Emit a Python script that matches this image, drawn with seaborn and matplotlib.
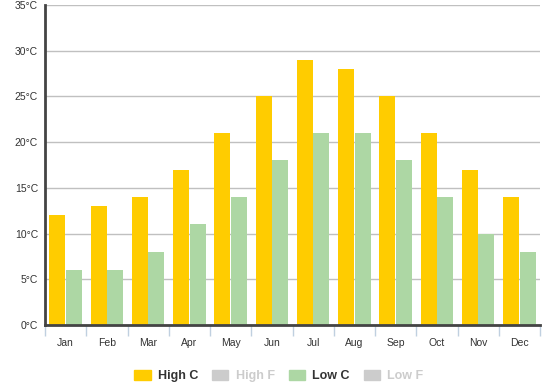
import matplotlib.pyplot as plt
import matplotlib.patches as mpatches
import seaborn as sns
import pandas as pd
import numpy as np

months = ['Jan', 'Feb', 'Mar', 'Apr', 'May', 'Jun',
          'Jul', 'Aug', 'Sep', 'Oct', 'Nov', 'Dec']
high_c = [12, 13, 14, 17, 21, 25, 29, 28, 25, 21, 17, 14]
low_c = [6, 6, 8, 11, 14, 18, 21, 21, 18, 14, 10, 8]
y_ticks = [0, 5, 10, 15, 20, 25, 30, 35]

high_color = '#FFCC00'
low_color = '#ADD7A4'
off_color = '#CCCCCC'

df = pd.DataFrame({
    'month': months * 2,
    'temp': high_c + low_c,
    'series': ['High C'] * len(months) + ['Low C'] * len(months),
})

sns.set_style('white')
plt.rcParams['font.family'] = ['Liberation Sans', 'DejaVu Sans']

fig = plt.figure(figsize=(5.47, 3.92), dpi=100)
ax = fig.add_axes([45 / 547, 1 - 325 / 392, 495 / 547, 320 / 392])

sns.barplot(data=df, x='month', y='temp', hue='series',
            palette={'High C': high_color, 'Low C': low_color},
            width=0.8, gap=0.04, linewidth=0, saturation=1,
            legend=False, ax=ax)

ax.set_ylim(0, 35)
ax.set_xlim(-0.5, len(months) - 0.5)
ax.set_yticks(y_ticks)
ax.set_yticklabels([f'{v}°C' for v in y_ticks], fontsize=7.5, color='#333333')
ax.yaxis.grid(True, color='#C0C0C0', linewidth=1)
ax.set_axisbelow(True)
ax.set_xlabel('')
ax.set_ylabel('')

ax.tick_params(axis='y', length=0, pad=5)
ax.tick_params(axis='x', which='major', bottom=False, length=0, pad=9,
               labelsize=7.5, labelcolor='#333333')
ax.set_xticks(np.arange(-0.5, len(months), 1), minor=True)
ax.tick_params(axis='x', which='minor', bottom=True, length=8, width=1,
               color='#C0D0E0')

for side in ['top', 'right']:
    ax.spines[side].set_visible(False)
ax.spines['left'].set_color('#444444')
ax.spines['left'].set_linewidth(2)
ax.spines['bottom'].set_color('#444444')
ax.spines['bottom'].set_linewidth(2)

handles = [
    mpatches.Patch(color=high_color, label='High C'),
    mpatches.Patch(color=off_color, label='High F'),
    mpatches.Patch(color=low_color, label='Low C'),
    mpatches.Patch(color=off_color, label='Low F'),
]
leg = fig.legend(handles=handles, loc='center', bbox_to_anchor=(0.51, 1 - 376 / 392),
                 ncol=4, frameon=False, handlelength=1.3,
                 handleheight=0.9, columnspacing=1.1, handletextpad=0.6,
                 prop={'weight': 'bold', 'size': 9})
for txt, col in zip(leg.get_texts(), ['#333333', off_color, '#333333', off_color]):
    txt.set_color(col)

fig.savefig('out.png', dpi=100)
